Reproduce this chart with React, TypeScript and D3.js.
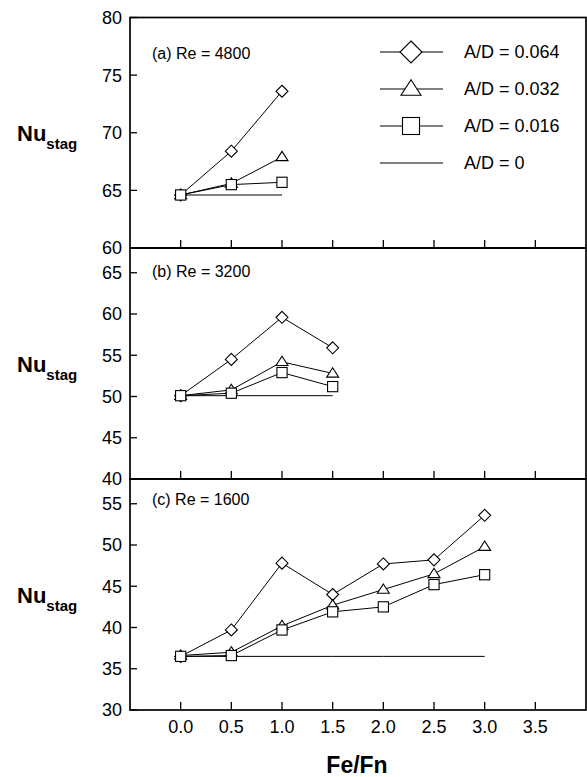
import React from "react";
import * as d3 from "d3";

// ---- data ----
const xTickValues = [0, 0.5, 1.0, 1.5, 2.0, 2.5, 3.0, 3.5];
const seriesNames = ["A/D = 0.064", "A/D = 0.032", "A/D = 0.016", "A/D = 0"];
const seriesShapes = ["diamond", "triangle", "square", "none"];

// (a) Re = 4800
const feFnA = [0, 0.5, 1.0];
const a064 = [64.6, 68.4, 73.6];
const a032 = [64.6, 65.6, 67.9];
const a016 = [64.6, 65.5, 65.7];
const a000 = [64.6, 64.6, 64.6];
const yTicksA = [60, 65, 70, 75, 80];

// (b) Re = 3200
const feFnB = [0, 0.5, 1.0, 1.5];
const b064 = [50.1, 54.5, 59.6, 55.9];
const b032 = [50.1, 50.8, 54.2, 52.8];
const b016 = [50.1, 50.4, 52.9, 51.2];
const b000 = [50.1, 50.1, 50.1, 50.1];
const yTicksB = [40, 45, 50, 55, 60, 65];

// (c) Re = 1600
const feFnC = [0, 0.5, 1.0, 1.5, 2.0, 2.5, 3.0];
const c064 = [36.5, 39.7, 47.8, 44.0, 47.7, 48.2, 53.6];
const c032 = [36.6, 37.0, 40.2, 42.7, 44.6, 46.5, 49.8];
const c016 = [36.5, 36.6, 39.7, 41.9, 42.5, 45.2, 46.4];
const c000 = [36.5, 36.5, 36.5, 36.5, 36.5, 36.5, 36.5];
const yTicksC = [30, 35, 40, 45, 50, 55];

const panels = [
  { label: "(a)  Re = 4800", x: feFnA, series: [a064, a032, a016, a000], domain: [60, 80], ticks: yTicksA, top: 17.5, bottom: 248, labelDy: 41, legend: true },
  { label: "(b)  Re = 3200", x: feFnB, series: [b064, b032, b016, b000], domain: [40, 68], ticks: yTicksB, top: 248, bottom: 479, labelDy: 29, legend: false },
  { label: "(c)  Re = 1600", x: feFnC, series: [c064, c032, c016, c000], domain: [30, 58], ticks: yTicksC, top: 479, bottom: 710, labelDy: 26, legend: false },
];

const FONT = "'Liberation Sans', Arial, Helvetica, sans-serif";
const LEFT = 130;
const RIGHT = 586;

function Marker({ shape, cx, cy, s }: { shape: string; cx: number; cy: number; s: number }) {
  const common = { fill: "#fff", stroke: "#000", strokeWidth: 1.1 };
  if (shape === "diamond") {
    const pts = [[cx, cy - s], [cx + s, cy], [cx, cy + s], [cx - s, cy]].map((p) => p.join(",")).join(" ");
    return <polygon points={pts} {...common} />;
  }
  if (shape === "triangle") {
    const h = s * 1.55;
    const w = s * 1.0;
    const pts = [[cx, cy - h * 0.6], [cx + w, cy + h * 0.4], [cx - w, cy + h * 0.4]].map((p) => p.join(",")).join(" ");
    return <polygon points={pts} {...common} />;
  }
  if (shape === "square") {
    const a = s * 0.85;
    return <rect x={cx - a} y={cy - a} width={2 * a} height={2 * a} {...common} />;
  }
  return null;
}

export default function App() {
  const x = d3.scaleLinear().domain([-0.5, 4.0]).range([LEFT, RIGHT]);
  const fmt = d3.format(".1f");

  return (
    <svg width={587} height={777} style={{ position: "absolute", left: 0, top: 0, background: "#fff" }} fontFamily={FONT}>
      {panels.map((p, pi) => {
        const y = d3.scaleLinear().domain(p.domain).range([p.bottom, p.top]);
        const line = d3
          .line<number>()
          .x((_, i) => x(p.x[i]))
          .y((d) => y(d));
        const midY = (p.top + p.bottom) / 2;
        return (
          <g key={pi}>
            {/* frame */}
            <rect x={LEFT} y={p.top} width={RIGHT - LEFT} height={p.bottom - p.top} fill="none" stroke="#000" strokeWidth={1.7} />
            {/* y ticks */}
            {p.ticks.map((t) => (
              <g key={t}>
                <line x1={LEFT} x2={LEFT + 7} y1={y(t)} y2={y(t)} stroke="#000" strokeWidth={1.3} />
                <text x={122} y={y(t)} dy="0.36em" textAnchor="end" fontSize={18} fill="#000">
                  {t}
                </text>
              </g>
            ))}
            {/* x ticks at bottom (inward) */}
            {xTickValues.map((t) => (
              <line key={t} x1={x(t)} x2={x(t)} y1={p.bottom} y2={p.bottom - 8} stroke="#000" strokeWidth={1.3} />
            ))}
            {/* panel label */}
            <text x={152} y={p.top + p.labelDy} fontSize={16} fill="#000">
              {p.label}
            </text>
            {/* y label */}
            <text x={17} y={midY + 8} fontSize={22} fontWeight="bold" fill="#000">
              Nu
              <tspan fontSize={15} dy={8}>stag</tspan>
            </text>
            {/* data lines */}
            {p.series.map((vals, si) => (
              <path key={si} d={line(vals) || ""} fill="none" stroke="#000" strokeWidth={1} />
            ))}
            {/* markers */}
            {p.series.map((vals, si) =>
              vals.map((v, i) => <Marker key={si + "-" + i} shape={seriesShapes[si]} cx={x(p.x[i])} cy={y(v)} s={6} />)
            )}
            {/* legend */}
            {p.legend &&
              seriesNames.map((name, si) => {
                const ly = 52 + si * 37;
                return (
                  <g key={name}>
                    <line x1={380} x2={443} y1={ly} y2={ly} stroke="#000" strokeWidth={1} />
                    <Marker shape={seriesShapes[si]} cx={411} cy={ly} s={si === 0 ? 11 : 10} />
                    <text x={464} y={ly} dy="0.36em" fontSize={18} fill="#000">
                      {name}
                    </text>
                  </g>
                );
              })}
          </g>
        );
      })}
      {/* x tick labels */}
      {xTickValues.map((t) => (
        <text key={t} x={x(t)} y={727} dy="0.36em" textAnchor="middle" fontSize={18} fill="#000">
          {fmt(t)}
        </text>
      ))}
      <text x={357} y={765} dy="0.36em" textAnchor="middle" fontSize={23} fontWeight="bold" fill="#000">
        Fe/Fn
      </text>
    </svg>
  );
}
